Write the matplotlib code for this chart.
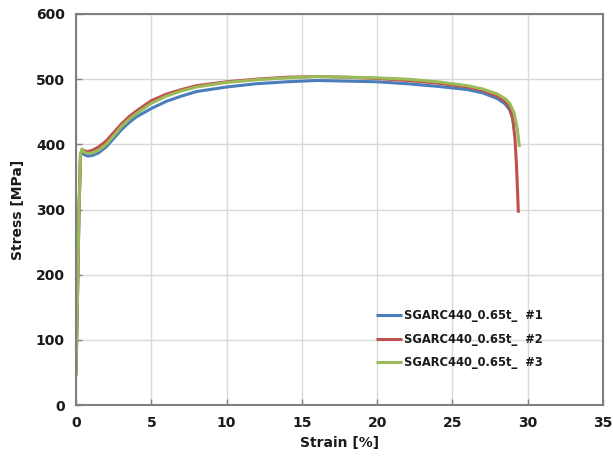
import matplotlib
matplotlib.use("Agg")
import matplotlib.pyplot as plt

plt.rcParams['font.family'] = ['DejaVu Sans']

strain_1 = [0, 0.1, 0.2, 0.3, 0.4, 0.55, 0.8, 1.1, 1.5, 2.0, 2.5, 3.0, 3.5, 4.0, 5.0, 6.0, 7.0, 8.0,
            10, 12, 14, 16, 18, 20, 22, 24, 26, 27, 28, 28.5, 28.8, 29.0, 29.1]
stress_1 = [50, 170, 300, 383, 388, 384, 382, 383, 387, 396, 409, 422, 433, 442, 455, 466, 474, 481,
            488, 493, 496, 498, 497, 496, 493, 489, 484, 479, 470, 462, 453, 440, 425]

strain_2 = [0, 0.1, 0.2, 0.3, 0.4, 0.55, 0.8, 1.1, 1.5, 2.0, 2.5, 3.0, 3.5, 4.0, 5.0, 6.0, 7.0, 8.0,
            10, 12, 14, 16, 18, 20, 22, 24, 26, 27, 28, 28.5, 28.8, 29.0, 29.15, 29.25, 29.32, 29.38]
stress_2 = [45, 170, 300, 385, 392, 390, 389, 391, 396, 405, 418, 431, 442, 451, 467, 477, 484, 490,
            496, 500, 503, 504, 503, 501, 498, 494, 488, 483, 474, 466, 457, 440, 410, 370, 330, 295]

strain_3 = [0, 0.1, 0.2, 0.3, 0.4, 0.55, 0.8, 1.1, 1.5, 2.0, 2.5, 3.0, 3.5, 4.0, 5.0, 6.0, 7.0, 8.0,
            10, 12, 14, 16, 18, 20, 22, 24, 26, 27, 28, 28.5, 28.8, 29.1, 29.3, 29.45]
stress_3 = [50, 170, 300, 385, 393, 388, 386, 387, 391, 400, 413, 427, 438, 447, 463, 474, 482, 488,
            495, 499, 502, 504, 503, 502, 500, 496, 490, 485, 477, 470, 463, 448, 425, 396]

labels = ["SGARC440_0.65t_  #1", "SGARC440_0.65t_  #2", "SGARC440_0.65t_  #3"]
colors = ["#4A7EBB", "#C0504D", "#9BBB59"]

x_ticks = [0, 5, 10, 15, 20, 25, 30, 35]
y_ticks = [0, 100, 200, 300, 400, 500, 600]

fig = plt.figure(figsize=(6.13, 4.59), dpi=100)
ax = fig.add_axes([0.124, 0.1176, 0.8597, 0.8519])

for sx, sy, lab, c in zip([strain_1, strain_2, strain_3], [stress_1, stress_2, stress_3], labels, colors):
    ax.plot(sx, sy, color=c, lw=2.2, label=lab, solid_capstyle='butt')

ax.set_xlim(0, 35)
ax.set_ylim(0, 600)
ax.set_xticks(x_ticks)
ax.set_yticks(y_ticks)
ax.grid(True, color="#D9D9D9", lw=1.0)
ax.set_axisbelow(True)
for s in ax.spines.values():
    s.set_color("#808080")
    s.set_linewidth(1.5)
ax.tick_params(direction='in', length=4, width=1, color="#808080", labelsize=10, pad=8)
for t in ax.get_xticklabels() + ax.get_yticklabels():
    t.set_fontweight('bold')
    t.set_color('#1a1a1a')

ax.set_xlabel("Strain [%]", fontsize=10, fontweight='bold', color='#1a1a1a', labelpad=4)
ax.set_ylabel("Stress [MPa]", fontsize=10, fontweight='bold', color='#1a1a1a', labelpad=8)

leg = ax.legend(loc='upper left', bbox_to_anchor=(0.569, 0.2455), frameon=False,
                prop={'weight': 'bold', 'size': 8.3}, handlelength=2.25, handletextpad=0.2,
                labelspacing=0.92, borderpad=0, borderaxespad=0)
for t in leg.get_texts():
    t.set_color('#1a1a1a')

fig.savefig("out.png", dpi=100)
